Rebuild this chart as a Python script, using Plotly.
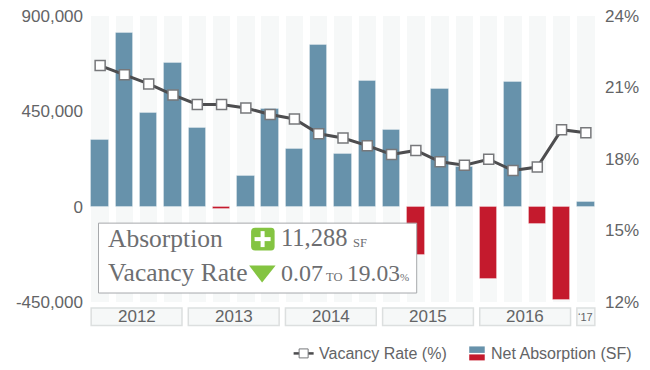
import plotly.graph_objects as go

quarters = [f"Q{q} {y}" for y in range(2012, 2017) for q in range(1, 5)] + ["Q1 2017"]
net_absorption = [313000, 820000, 441000, 677000, 371000, -11000, 145000, 460000, 274000, 763000, 247000,
                  593000, 362000, -230000, 555000, 189000, -343000, 588000, -82000, -442000, 24000]
vacancy_rate = [21.92, 21.53, 21.15, 20.69, 20.29, 20.29, 20.14, 19.87, 19.68, 19.06, 18.88,
                18.56, 18.19, 18.36, 17.88, 17.74, 17.99, 17.52, 17.66, 19.23, 19.10]
year_labels = ["2012", "2013", "2014", "2015", "2016", "\u201817"]
year_first = [0, 4, 8, 12, 16, 20]
year_last = [3, 7, 11, 15, 19, 20]
left_ticks = [-450000, 0, 450000, 900000]
left_tick_labels = ["-450,000", "0", "450,000", "900,000"]
right_ticks = [12, 15, 18, 21, 24]
right_tick_labels = ["12%", "15%", "18%", "21%", "24%"]

W, H = 650, 370
L, R, T, B = 88, 597.7, 16, 302.5
BLUE, RED, GREEN = "#6792ab", "#c41a2d", "#84c441"
GREY = "#6d6e71"
SANS = "Liberation Sans"
SERIF = "Liberation Serif"


def px(v):
    return (v - L) / (R - L)


def py(v):
    return (B - v) / (B - T)


xs = list(range(len(quarters)))
fig = go.Figure()
fig.add_bar(x=xs, y=[900000 - 453000] * len(xs), base=[453000] * len(xs), width=0.72,
            marker=dict(color="#f6f8f8", line_width=0), hoverinfo="skip", showlegend=False)
fig.add_bar(x=xs, y=[900000 - 1] * len(xs), base=[-450000] * len(xs), width=0.72,
            marker=dict(color="#f6f8f8", line_width=0), hoverinfo="skip", showlegend=False)
fig.add_bar(x=xs, y=net_absorption, width=0.72, name="Net Absorption (SF)", showlegend=False,
            marker=dict(color=[BLUE if v >= 0 else RED for v in net_absorption],
                        line=dict(color="rgba(255,255,255,0.3)", width=1)))
fig.add_scatter(x=xs, y=vacancy_rate, yaxis="y2", mode="lines+markers", name="Vacancy Rate (%)", showlegend=False,
                line=dict(color="#4d4d4f", width=3),
                marker=dict(symbol="square", size=10, color="#ffffff", line=dict(color="#77787b", width=1.5)))

shapes = []
annotations = []


def text(x, y, s, size, font=SANS, color=GREY, anchor="left"):
    annotations.append(dict(xref="paper", yref="paper", x=px(x), y=py(y), text=s, showarrow=False,
                            xanchor=anchor, yanchor="middle", borderpad=0,
                            font=dict(family=font, size=size, color=color)))


def rect(x0, y0, x1, y1, fill, line=None, width=0):
    shapes.append(dict(type="rect", xref="paper", yref="paper", x0=px(x0), x1=px(x1), y0=py(y1), y1=py(y0),
                       fillcolor=fill, line=dict(color=line or fill, width=width), layer="above"))


for label, a, b in zip(year_labels, year_first, year_last):
    shapes.append(dict(type="rect", xref="x", yref="paper", x0=a - 0.37, x1=b + 0.37, y0=py(326), y1=py(308.5),
                       fillcolor="#f6f8f8", line=dict(color="#dcdfdf", width=1.5), layer="above"))
    annotations.append(dict(xref="x", yref="paper", x=(a + b) / 2, y=py(317.5), text=label, showarrow=False,
                            xanchor="center", yanchor="middle", borderpad=0,
                            font=dict(family=SANS, size=17 if a != 20 else 11, color="#636466")))

# info box
rect(98.5, 223.5, 416.5, 293.5, "#ffffff", "#a7a9ac", 1)
text(107, 239, "Absorption", 25.5, SERIF)
text(107, 273, "Vacancy Rate", 25.5, SERIF)
shapes.append(dict(type="path", xref="paper", yref="paper", layer="above", fillcolor=GREEN, line_width=0,
                   path=f"M {px(255)} {py(228)} L {px(271)} {py(228)} Q {px(274.5)} {py(228)} {px(274.5)} {py(232)}"
                        f" L {px(274.5)} {py(247)} Q {px(274.5)} {py(251)} {px(271)} {py(251)} L {px(255)} {py(251)}"
                        f" Q {px(251)} {py(251)} {px(251)} {py(247)} L {px(251)} {py(232)}"
                        f" Q {px(251)} {py(228)} {px(255)} {py(228)} Z"))
rect(260.5, 231.5, 264.5, 247.5, "#ffffff")
rect(254.5, 237.5, 270.5, 241.5, "#ffffff")
shapes.append(dict(type="path", xref="paper", yref="paper", layer="above", fillcolor=GREEN, line_width=0,
                   path=f"M {px(249)} {py(266)} L {px(275.5)} {py(266)} L {px(262)} {py(283)} Z"))
text(280, 238, "11,288", 24.5, SERIF)
text(352, 243, "SF", 12.5, SERIF)
text(280, 273, "0.07", 24, SERIF)
text(325, 277, "TO", 12.5, SERIF)
text(346, 273, "19.03", 23.5, SERIF)
text(399, 277, "%", 11, SERIF)

# legend
shapes.append(dict(type="line", xref="paper", yref="paper", x0=px(293.5), x1=px(313.5), y0=py(354), y1=py(354),
                   line=dict(color="#4d4d4f", width=2.5), layer="above"))
rect(299, 349.5, 308, 358.5, "#ffffff", "#77787b", 1)
text(317.5, 354, "Vacancy Rate (%)", 16, color="#636466")
rect(469, 347, 484.5, 353.5, BLUE)
rect(469, 355, 484.5, 361, RED)
text(490, 354, "Net Absorption (SF)", 16, color="#636466")

fig.update_layout(
    width=W, height=H, autosize=False, barmode="overlay", bargap=0, plot_bgcolor="#ffffff", paper_bgcolor="#ffffff",
    margin=dict(l=L, r=W - R, t=T, b=H - B, pad=0, autoexpand=False), showlegend=False, shapes=shapes,
    annotations=annotations,
    xaxis=dict(range=[-0.5, 20.5], showticklabels=False, showgrid=False, zeroline=False, ticks=""),
    yaxis=dict(range=[-450000, 900000], tickvals=left_ticks, ticktext=left_tick_labels, showgrid=False,
               zeroline=False, ticks="", ticklabelstandoff=4, tickfont=dict(family=SANS, size=17, color="#636466")),
    yaxis2=dict(range=[12, 24], overlaying="y", side="right", tickvals=right_ticks, ticktext=right_tick_labels,
                showgrid=False, zeroline=False, ticks="", ticklabelstandoff=6,
                tickfont=dict(family=SANS, size=17, color="#636466")),
)
fig.write_html("out.html", config={"displayModeBar": False},
               post_script="document.body.style.margin='0';document.documentElement.style.overflow='hidden';")
